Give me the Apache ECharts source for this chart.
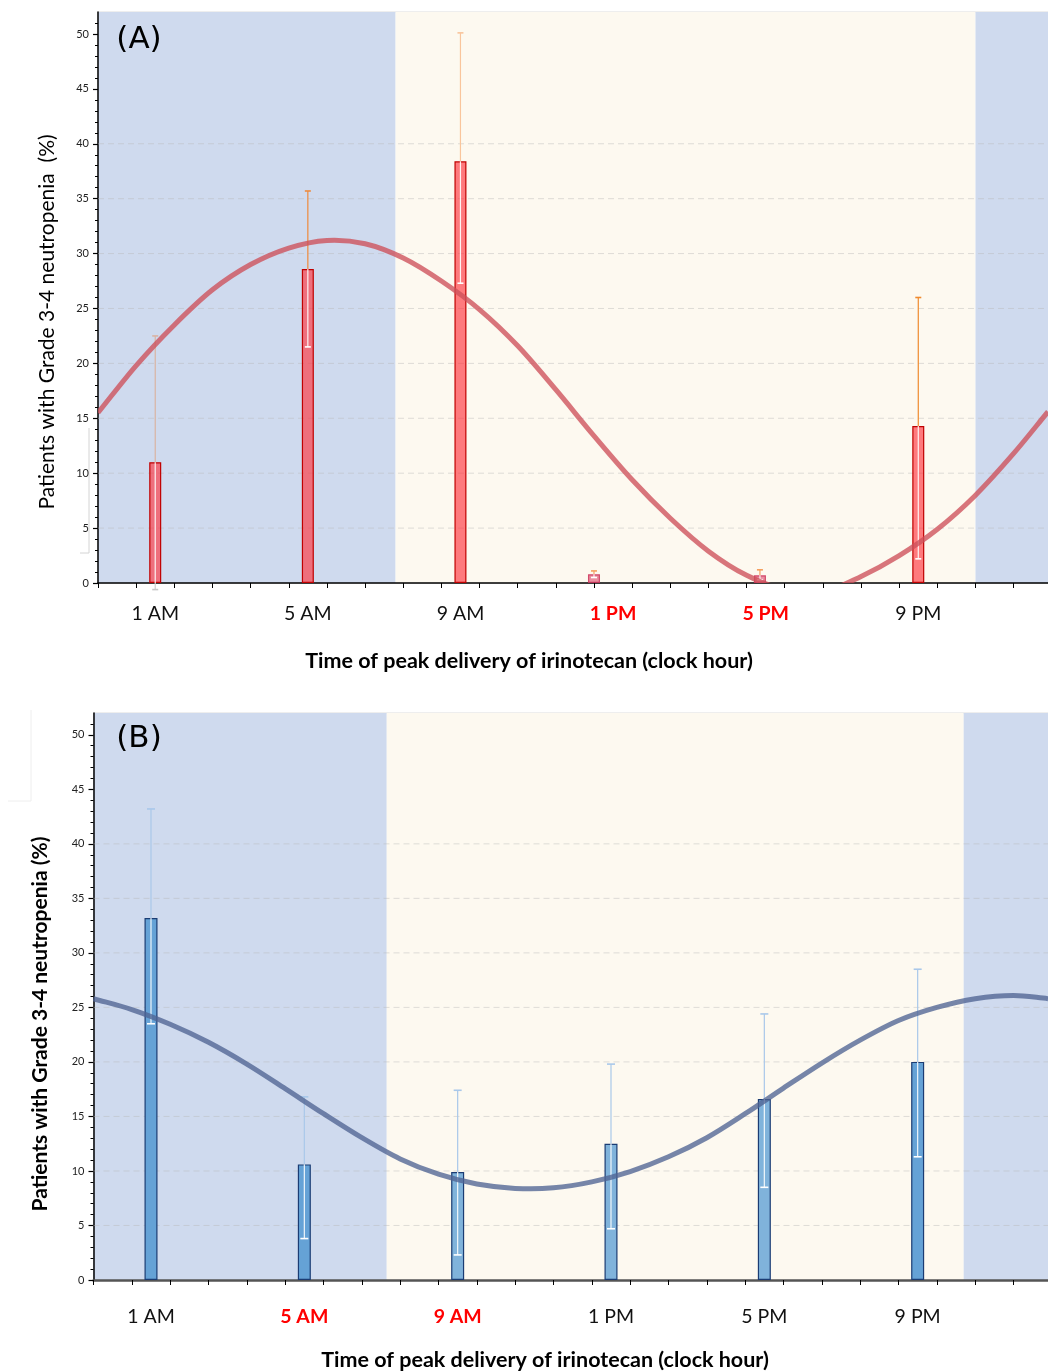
<!DOCTYPE html>
<html>
<head>
<meta charset="utf-8">
<script src="https://cdn.jsdelivr.net/npm/echarts@6/dist/echarts.min.js"></script>
<style>
  html, body { margin: 0; padding: 0; background: #ffffff; }
  #chart { width: 1048px; height: 1372px; }
</style>
</head>
<body>
<div id="chart"></div>
<script>
// Clock-hour categories and where each sits on the hour axis
const hourLabels = ['1 AM', '5 AM', '9 AM', '1 PM', '5 PM', '9 PM'];
const labelHours = [1.5, 5.5, 9.5, 13.5, 17.5, 21.5];
const tickHours = [0, 1, 2, 3, 4, 5, 6, 7, 8, 9, 10, 11, 12, 13, 14, 15, 16, 17, 18, 19, 20, 21, 22, 23, 24];
const yTicks = [0, 5, 10, 15, 20, 25, 30, 35, 40, 45, 50];
const gridValues = [5, 10, 15, 20, 25, 30, 35, 40];

// Panel A: grade 3-4 neutropenia by peak delivery time
const barHoursA = [1.5, 5.5, 9.5, 13.0, 17.35, 21.5];
const toxA = [11.0, 28.6, 38.4, 0.8, 0.7, 14.3];
const upperA = [22.5, 35.7, 50.1, 1.1, 1.2, 26.0];
const lowerA = [-0.6, 21.5, 27.3, 0.5, 0.3, 2.2];

// Panel B
const barHoursB = [1.5, 5.5, 9.5, 13.5, 17.5, 21.5];
const toxB = [33.2, 10.6, 9.9, 12.5, 16.6, 20.0];
const upperB = [43.2, 16.8, 17.4, 19.8, 24.4, 28.5];
const lowerB = [23.5, 3.8, 2.3, 4.7, 8.5, 11.3];

// Fitted rhythm curves, read hour by hour
const curveHours = [0, 1, 2, 3, 4, 5, 6, 7, 8, 9, 10, 11, 12, 13, 14, 15, 16, 17, 18, 19, 20, 21, 22, 23, 24, 24.9];
const curveA = [15.5, 19.8, 23.5, 26.7, 29.0, 30.5, 31.2, 30.9, 29.6, 27.5, 24.9, 21.6, 17.6, 13.4, 9.4, 5.9, 2.9, 0.7, -0.6, -0.8, 0.6, 2.5, 4.9, 8.0, 11.8, 15.6];
const curveB = [25.8, 24.8, 23.45, 21.8, 19.8, 17.55, 15.25, 13.05, 11.1, 9.7, 8.8, 8.4, 8.45, 9.0, 9.95, 11.3, 13.05, 15.25, 17.6, 19.9, 22.0, 23.8, 25.0, 25.8, 26.1, 25.8];

// Rest (night) / activity (day) spans in hours
const bandsA = [[0, 7.8, 0], [7.8, 23.0, 1], [23.0, 24.9, 0]];
const bandsB = [[0, 7.65, 0], [7.65, 22.7, 1], [22.7, 24.9, 0]];

// Styling
const NIGHT = '#cfdaee';
const DAY = '#fdf9f0';
const FONT = 'Lato';
const highlightA = [false, false, false, true, true, false];
const highlightB = [false, true, true, false, false, false];
const upColorsA = ['#d9b3a3', '#ee8a3c', '#f9c59c', '#f5a060', '#f5a060', '#f08a2e'];
const upColorsB = ['#a9c8ea', '#a9c8ea', '#a9c8ea', '#a9c8ea', '#a9c8ea', '#a9c8ea'];
const barColorsB = ['#65a2d6', '#65a2d6', '#80b3db', '#80b3db', '#80b3db', '#65a2d6'];

const chart = echarts.init(document.getElementById('chart'), null, { renderer: 'canvas' });

function bandSeries(gi, bands) {
  return {
    type: 'custom', xAxisIndex: gi, yAxisIndex: gi, z: 0, silent: true,
    data: bands,
    renderItem(params, api) {
      const cs = params.coordSys;
      const x0 = api.coord([api.value(0), 0])[0];
      const x1 = api.coord([api.value(1), 0])[0];
      return {
        type: 'rect',
        shape: { x: x0, y: cs.y, width: x1 - x0, height: cs.height },
        style: { fill: api.value(2) ? DAY : NIGHT }
      };
    }
  };
}

function gridLineSeries(gi) {
  return {
    type: 'custom', xAxisIndex: gi, yAxisIndex: gi, z: 1, silent: true,
    data: gridValues.map(v => [0, v]),
    renderItem(params, api) {
      const cs = params.coordSys;
      const y = api.coord([0, api.value(1)])[1];
      return {
        type: 'line',
        shape: { x1: cs.x, y1: y, x2: cs.x + cs.width, y2: y },
        style: { stroke: 'rgba(185,185,185,0.45)', lineWidth: 1, lineDash: [6, 4] }
      };
    }
  };
}

function barSeries(gi, hours, vals, width, styleFn) {
  return {
    type: 'bar', xAxisIndex: gi, yAxisIndex: gi, z: 2, barWidth: width, silent: true,
    data: hours.map((h, i) => ({ value: [h, vals[i]], itemStyle: styleFn(i) }))
  };
}

function errorSeries(gi, hours, tops, ups, lows, upColors, capHalf) {
  return {
    type: 'custom', xAxisIndex: gi, yAxisIndex: gi, z: 3, silent: true,
    data: hours.map((h, i) => [h, tops[i], ups[i], lows[i], i]),
    renderItem(params, api) {
      const cs = params.coordSys;
      const i = api.value(4);
      const x = api.coord([api.value(0), 0])[0];
      const yTop = api.coord([0, api.value(1)])[1];
      const yUp = api.coord([0, api.value(2)])[1];
      const yLow = api.coord([0, api.value(3)])[1];
      const yAxisPix = cs.y + cs.height;
      const c = upColors[i];
      const kids = [
        { type: 'line', shape: { x1: x, y1: yTop, x2: x, y2: yUp }, style: { stroke: c, lineWidth: 1.2 } },
        { type: 'line', shape: { x1: x - capHalf, y1: yUp, x2: x + capHalf, y2: yUp }, style: { stroke: c, lineWidth: 1.6 } },
        { type: 'line', shape: { x1: x, y1: yTop, x2: x, y2: Math.min(yLow, yAxisPix) }, style: { stroke: 'rgba(255,255,255,0.9)', lineWidth: 1.2 } }
      ];
      const below = yLow > yAxisPix;
      if (below) {
        kids.push({ type: 'line', shape: { x1: x, y1: yAxisPix, x2: x, y2: yLow }, style: { stroke: '#cfcfcf', lineWidth: 1.2 } });
      }
      kids.push({ type: 'line', shape: { x1: x - capHalf, y1: yLow, x2: x + capHalf, y2: yLow },
        style: { stroke: below ? '#c8c8c8' : '#ffffff', lineWidth: 1.6 } });
      return { type: 'group', children: kids };
    }
  };
}

// Rhythm curve: a cubic Hermite spline through the hourly readings,
// positioned through the cartesian axes and clipped to the plot area.
function curveSeries(gi, vals, color) {
  return {
    type: 'custom', xAxisIndex: gi, yAxisIndex: gi, z: 4, silent: true, clip: true,
    data: curveHours.map((h, i) => [h, vals[i]]),
    renderItem(params, api) {
      if (params.dataIndex !== 0) return null;
      const n = curveHours.length;
      const pts = curveHours.map((h, i) => api.coord([h, vals[i]]));
      const slope = k => {
        const a = pts[Math.max(k - 1, 0)];
        const b = pts[Math.min(k + 1, n - 1)];
        return (b[1] - a[1]) / (b[0] - a[0]);
      };
      let d = 'M' + pts[0][0] + ' ' + pts[0][1];
      for (let k = 0; k < n - 1; k++) {
        const p = pts[k], q = pts[k + 1];
        const dx = (q[0] - p[0]) / 3;
        d += ' C' + (p[0] + dx) + ' ' + (p[1] + slope(k) * dx) + ' ' +
             (q[0] - dx) + ' ' + (q[1] - slope(k + 1) * dx) + ' ' + q[0] + ' ' + q[1];
      }
      return {
        type: 'path',
        shape: { pathData: d },
        style: { stroke: color, lineWidth: 5, fill: null, lineJoin: 'round' }
      };
    }
  };
}

function xAxis(gi, highlight, lineColor, lineWidth, margin) {
  return {
    type: 'value', gridIndex: gi, min: 0, max: 24.9, interval: 1,
    axisLine: { show: true, onZero: false, lineStyle: { color: lineColor, width: lineWidth } },
    axisTick: { show: true, length: 5, customValues: tickHours, lineStyle: { color: '#000', width: 1 } },
    axisLabel: {
      customValues: labelHours,
      margin: margin,
      fontFamily: FONT, fontSize: 19.5, color: '#111',
      formatter(v) {
        const k = labelHours.indexOf(v);
        if (k < 0) return '';
        return highlight[k] ? '{r|' + hourLabels[k] + '}' : hourLabels[k];
      },
      rich: { r: { fontFamily: FONT, fontSize: 19.5, fontWeight: 'bold', color: '#ff0000' } }
    },
    splitLine: { show: false }
  };
}

function yAxis(gi) {
  return {
    type: 'value', gridIndex: gi, min: 0, max: 52, interval: 5,
    axisLine: { show: true, onZero: false, lineStyle: { color: '#000', width: 1.5 } },
    axisTick: { show: true, length: 5, customValues: yTicks, lineStyle: { color: '#000', width: 1.2 } },
    minorTick: { show: true, splitNumber: 5, length: 3, lineStyle: { color: '#000', width: 1 } },
    axisLabel: { customValues: yTicks, margin: 9, fontFamily: FONT, fontSize: 11, color: '#222' },
    splitLine: { show: false }
  };
}

function text(x, y, str, font, opts) {
  return Object.assign({
    type: 'text', x: x, y: y, silent: true, z: 10,
    style: { text: str, font: font, fill: '#000', align: 'center', verticalAlign: 'middle',
             textAlign: 'center', textVerticalAlign: 'middle' }
  }, opts || {});
}

chart.setOption({
  animation: false,
  backgroundColor: '#ffffff',
  grid: [
    { left: 98, top: 12, width: 950, height: 571, show: true, borderColor: '#dddddd', borderWidth: 1, backgroundColor: 'transparent' },
    { left: 93.5, top: 713, width: 954.5, height: 567, show: true, borderColor: '#dddddd', borderWidth: 1, backgroundColor: 'transparent' }
  ],
  xAxis: [xAxis(0, highlightA, '#000', 1.5, 21), xAxis(1, highlightB, '#555', 2.5, 27)],
  yAxis: [yAxis(0), yAxis(1)],
  series: [
    bandSeries(0, bandsA),
    gridLineSeries(0),
    barSeries(0, barHoursA, toxA, 12, i => (i === 3 || i === 4)
      ? { color: 'rgba(222,70,105,0.6)', borderColor: 'rgba(205,50,90,0.85)', borderWidth: 1.2 }
      : { color: 'rgba(255,50,60,0.64)', borderColor: '#c00000', borderWidth: 1.2 }),
    errorSeries(0, barHoursA, toxA, upperA, lowerA, upColorsA, 3),
    curveSeries(0, curveA, 'rgba(205,80,90,0.78)'),

    bandSeries(1, bandsB),
    gridLineSeries(1),
    barSeries(1, barHoursB, toxB, 13, i => ({ color: barColorsB[i], borderColor: '#1b3c73', borderWidth: 1.2 })),
    errorSeries(1, barHoursB, toxB, upperB, lowerB, upColorsB, 4),
    curveSeries(1, curveB, 'rgba(80,100,148,0.78)')
  ],
  graphic: [
    text(139, 40, '(A)', '31px "DejaVu Sans"'),
    text(139, 739, '(B)', '31px "DejaVu Sans"'),
    text(47, 322, 'Patients with Grade 3-4 neutropenia  (%)', '21px ' + FONT, { rotation: Math.PI / 2 }),
    text(40, 1024, 'Patients with Grade 3-4 neutropenia (%)', 'bold 21px ' + FONT, { rotation: Math.PI / 2 }),
    text(529, 661, 'Time of peak delivery of irinotecan (clock hour)', 'bold 21.5px ' + FONT),
    text(545, 1360, 'Time of peak delivery of irinotecan (clock hour)', 'bold 21.5px ' + FONT),
    // faint scan marks beside the axes
    { type: 'polyline', silent: true, shape: { points: [[89, 428], [89, 553], [80, 553]] },
      style: { stroke: '#d4d4d4', lineWidth: 1, fill: null } },
    { type: 'polyline', silent: true, shape: { points: [[8, 801], [31, 801], [31, 710]] },
      style: { stroke: '#eeeeee', lineWidth: 1, fill: null } }
  ]
});
</script>
</body>
</html>
